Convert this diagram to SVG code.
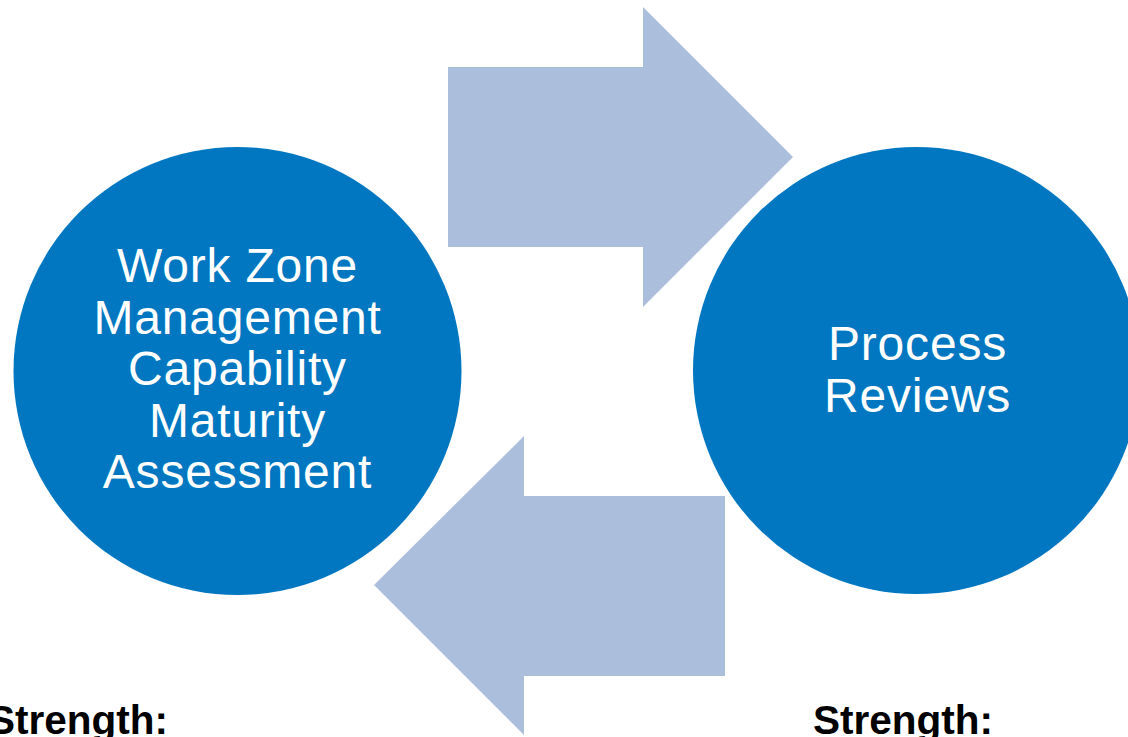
<svg xmlns="http://www.w3.org/2000/svg" width="1128" height="737" viewBox="0 0 1128 737">
<style>
.circ{fill:#0077c0}
.arr{fill:#abbedc}
.lbl{font-family:"Liberation Sans",Arial,sans-serif;font-size:48px;letter-spacing:0.8px;fill:#ffffff;text-anchor:middle}
.str{font-family:"Liberation Sans",Arial,sans-serif;font-size:41px;font-weight:bold;fill:#000000}
</style>
<rect width="1128" height="737" fill="#ffffff"/>
<g id="connectors">
<polygon class="arr" points="448,67 643,67 643,7 793,157 643,307 643,247 448,247"/>
<polygon class="arr" points="725,496 524,496 524,436 374,585 524,735 524,676 725,676"/>
</g>
<g id="node-assessment">
<circle class="circ" cx="237.5" cy="371" r="224"/>
<text class="lbl" x="237.5" y="282">Work Zone</text>
<text class="lbl" x="237.5" y="333.5">Management</text>
<text class="lbl" x="237.5" y="385">Capability</text>
<text class="lbl" x="237.5" y="436.5">Maturity</text>
<text class="lbl" x="237.5" y="488">Assessment</text>
</g>
<g id="node-reviews">
<circle class="circ" cx="916.5" cy="370.5" r="223.5"/>
<text class="lbl" x="917.5" y="360">Process</text>
<text class="lbl" x="917.5" y="412">Reviews</text>
</g>
<g id="labels">
<text class="str" x="-12" y="734" textLength="180" lengthAdjust="spacingAndGlyphs">Strength:</text>
<text class="str" x="813" y="734" textLength="180" lengthAdjust="spacingAndGlyphs">Strength:</text>
</g>
</svg>
